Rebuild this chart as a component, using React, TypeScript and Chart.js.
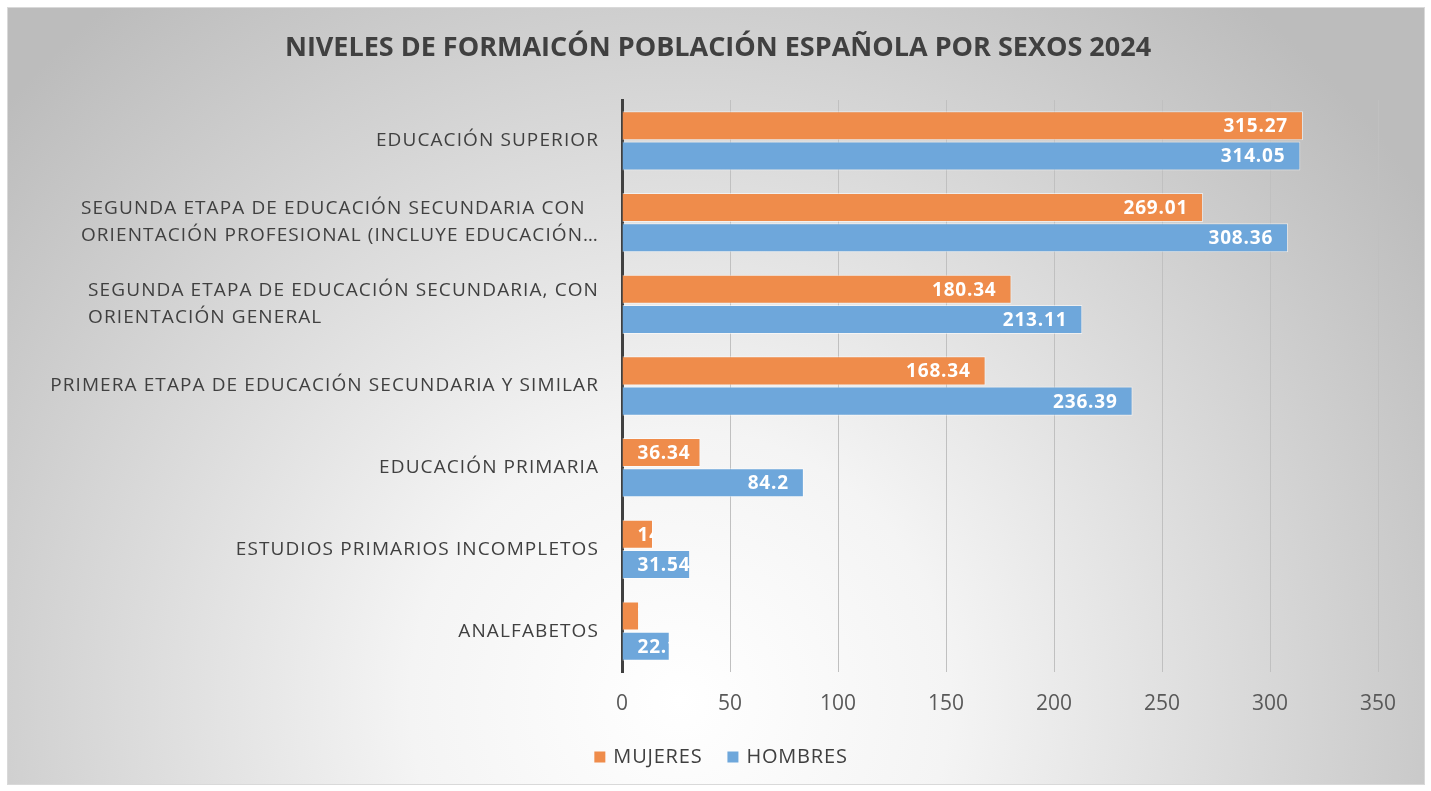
import React, { useEffect, useRef } from 'react';
import { Chart, registerables } from 'chart.js';

Chart.register(...registerables);

const TITLE = 'NIVELES DE FORMAICÓN POBLACIÓN ESPAÑOLA POR SEXOS 2024';

const categories: string[][] = [
  ['EDUCACIÓN SUPERIOR'],
  ['SEGUNDA ETAPA DE EDUCACIÓN SECUNDARIA CON', 'ORIENTACIÓN PROFESIONAL (INCLUYE EDUCACIÓN…'],
  ['SEGUNDA ETAPA DE EDUCACIÓN SECUNDARIA, CON', 'ORIENTACIÓN GENERAL'],
  ['PRIMERA ETAPA DE EDUCACIÓN SECUNDARIA Y SIMILAR'],
  ['EDUCACIÓN PRIMARIA'],
  ['ESTUDIOS PRIMARIOS INCOMPLETOS'],
  ['ANALFABETOS'],
];

const seriesNames = ['MUJERES', 'HOMBRES'];
const mujeres = [315.27, 269.01, 180.34, 168.34, 36.34, 14.35, 7.9];
const hombres = [314.05, 308.36, 213.11, 236.39, 84.2, 31.54, 22.1];
const seriesColors = ['#EF8C4B', '#6EA7DB'];
const xMin = 0;
const xMax = 350;
const xStep = 50;

const FONT = '"Open Sans", "DejaVu Sans", sans-serif';

const setSpacing = (ctx: any, v: string) => {
  if ('letterSpacing' in ctx) ctx.letterSpacing = v;
};

const decorPlugin = {
  id: 'decor',
  beforeDraw(chart: any) {
    const { ctx, width, height } = chart;
    ctx.save();
    ctx.fillStyle = '#ffffff';
    ctx.fillRect(0, 0, width, height);
    const g = ctx.createRadialGradient(680, 700, 0, 680, 700, 900);
    g.addColorStop(0, '#ffffff');
    g.addColorStop(0.3, '#f4f4f4');
    g.addColorStop(1, '#bcbcbc');
    ctx.fillStyle = g;
    ctx.fillRect(7, 7, 1418, 778);
    ctx.strokeStyle = '#d9d9d9';
    ctx.lineWidth = 1;
    ctx.strokeRect(7.5, 7.5, 1417, 777);
    ctx.restore();
  },
  afterDatasetsDraw(chart: any) {
    const { ctx } = chart;
    ctx.save();
    ctx.font = `bold 19px ${FONT}`;
    setSpacing(ctx, '0.8px');
    ctx.fillStyle = '#ffffff';
    ctx.textBaseline = 'middle';
    ctx.textAlign = 'left';
    chart.data.datasets.forEach((ds: any, di: number) => {
      const meta = chart.getDatasetMeta(di);
      meta.data.forEach((bar: any, i: number) => {
        const txt = String(ds.data[i]);
        const w = ctx.measureText(txt).width;
        const base = bar.base;
        const end = bar.x;
        const h = bar.height;
        const x = Math.max(base + 15, end - 15 - w);
        ctx.save();
        ctx.beginPath();
        ctx.rect(base, bar.y - h / 2, end - base, h);
        ctx.clip();
        ctx.fillText(txt, x, bar.y + 1);
        ctx.restore();
      });
    });
    setSpacing(ctx, '0px');
    ctx.restore();
  },
  afterDraw(chart: any) {
    const { ctx } = chart;
    const yScale = chart.scales.y;
    const area = chart.chartArea;
    ctx.save();
    // title
    ctx.font = `bold 27px ${FONT}`;
    ctx.fillStyle = '#404040';
    ctx.textAlign = 'center';
    ctx.textBaseline = 'middle';
    ctx.fillText(TITLE, 718, 48);
    // y labels: block right-aligned, lines left-aligned
    ctx.font = `19px ${FONT}`;
    setSpacing(ctx, '1.1px');
    ctx.fillStyle = '#404040';
    ctx.textAlign = 'left';
    const lh = 27;
    categories.forEach((lines, i) => {
      const cy = yScale.getPixelForValue(i);
      const maxW = Math.max(...lines.map((l) => ctx.measureText(l).width));
      const left = area.left - 23 - maxW;
      lines.forEach((l, k) => {
        const y = cy + (k - (lines.length - 1) / 2) * lh;
        ctx.fillText(l, left, y);
      });
    });
    // legend
    ctx.font = `20px ${FONT}`;
    setSpacing(ctx, '0.8px');
    ctx.textBaseline = 'middle';
    const items = seriesNames.map((n, i) => ({ n, c: seriesColors[i], w: ctx.measureText(n).width }));
    const box = 11;
    const gapBox = 8;
    const gapItem = 25;
    const total = items.reduce((s, it) => s + box + gapBox + it.w, 0) + gapItem * (items.length - 1);
    let x = 721 - total / 2;
    const ly = 757;
    items.forEach((it) => {
      ctx.fillStyle = it.c;
      ctx.fillRect(x, ly - box / 2, box, box);
      x += box + gapBox;
      ctx.fillStyle = '#404040';
      ctx.fillText(it.n, x, ly);
      x += it.w + gapItem;
    });
    setSpacing(ctx, '0px');
    ctx.restore();
  },
};

export default function App() {
  const ref = useRef<HTMLCanvasElement>(null);
  useEffect(() => {
    if (!ref.current) return;
    const chart = new Chart(ref.current, {
      type: 'bar',
      data: {
        labels: categories.map((c) => c.join(' ')),
        datasets: [
          {
            label: seriesNames[0],
            data: mujeres,
            backgroundColor: seriesColors[0],
            borderColor: 'rgba(255,255,255,0.55)',
            borderWidth: 1,
            categoryPercentage: 0.74,
            barPercentage: 0.96,
          },
          {
            label: seriesNames[1],
            data: hombres,
            backgroundColor: seriesColors[1],
            borderColor: 'rgba(255,255,255,0.55)',
            borderWidth: 1,
            categoryPercentage: 0.74,
            barPercentage: 0.96,
          },
        ],
      },
      plugins: [decorPlugin],
      options: {
        indexAxis: 'y',
        responsive: false,
        animation: false,
        layout: { padding: { left: 622, right: 53, top: 100, bottom: 0 } },
        plugins: {
          legend: { display: false },
          title: { display: false },
          tooltip: { enabled: false },
        },
        scales: {
          x: {
            min: xMin,
            max: xMax,
            ticks: {
              stepSize: xStep,
              color: '#595959',
              font: { family: FONT, size: 21 },
              padding: 19,
            },
            grid: { color: '#c0c0c0', lineWidth: 1, drawTicks: false },
            border: { display: false },
            afterFit: (s: any) => {
              s.height = 119;
            },
          },
          y: {
            ticks: { display: false },
            grid: { display: false, drawTicks: false },
            border: { display: true, color: '#404040', width: 3 },
            afterFit: (s: any) => {
              s.width = 0;
            },
          },
        },
      },
    });
    return () => chart.destroy();
  }, []);
  return (
    <div style={{ position: 'fixed', left: 0, top: 0 }}>
      <canvas ref={ref} width={1431} height={791} style={{ display: 'block' }} />
    </div>
  );
}
